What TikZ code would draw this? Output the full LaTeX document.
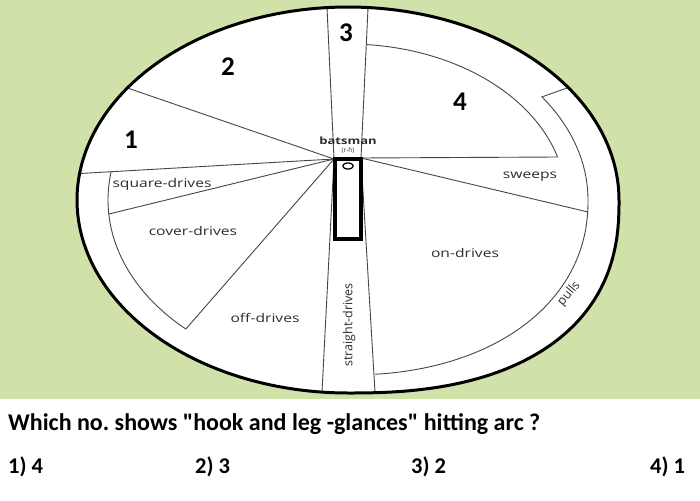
\documentclass[tikz,border=0pt]{standalone}
\usepackage{fontspec}
\setmainfont{Carlito}
\newfontfamily\qfont{Carlito}
\newfontfamily\labfont{Open Sans}
\definecolor{bggreen}{RGB}{208,226,170}
\definecolor{linegray}{RGB}{70,70,70}
\definecolor{labgray}{RGB}{45,45,45}
\newcommand{\fieldboundary}{plot[domain=0.01:89.99,samples=90] ({348+271*(cos(\x))^0.8333},{200+193*(sin(\x))^0.8333}) -- plot[domain=90:360,samples=180] ({348+271*cos(\x)},{200+193*sin(\x)}) -- cycle}
\begin{document}
\frenchspacing
\begin{tikzpicture}[x=1pt,y=-1pt,
  fieldline/.style={draw=linegray,line width=0.9pt},
  lbl/.style={font=\labfont\fontsize{12}{14}\selectfont,text=labgray,inner sep=0pt,xscale=1.3},
  lblv/.style={font=\labfont\fontsize{12.5}{14}\selectfont,text=labgray,inner sep=0pt},
  bignum/.style={font=\qfont\bfseries\fontsize{27}{30}\selectfont,inner sep=0pt},
  qtext/.style={font=\qfont\bfseries\fontsize{24}{26}\selectfont,inner sep=0pt,anchor=base west},
  atext/.style={font=\qfont\bfseries\fontsize{22.5}{26}\selectfont,inner sep=0pt,anchor=base west}]
\useasboundingbox (0,0) rectangle (700,500);
\fill[white] (0,0) rectangle (700,500);
\fill[bggreen] (0,0) rectangle (700,399);
\fill[white] \fieldboundary;

% key points
\coordinate (O) at (334,159);
\coordinate (OR) at (361,158);
\coordinate (E12) at (127.5,88);
\coordinate (E1) at (80,173.5);
\coordinate (Isq) at ({348+240*cos(175.4)},{200+175*sin(175.4)});
\coordinate (Icov) at ({348+240*cos(132.5)},{200+175*sin(132.5)});
\coordinate (LT) at (327,7.5);
\coordinate (LB) at (322,392);
\coordinate (RT) at (368,8);
\coordinate (RB) at (375,392);
\coordinate (SW) at (588,212);
\coordinate (P1) at (567,88);
\coordinate (P2) at ({348+240*cos(-36.1)},{200+175*sin(-36.1)});

% off side
\draw[fieldline] (O) -- (E12);
\draw[fieldline] (O) -- (E1);
\draw[fieldline] (O) -- (Isq);
\draw[fieldline] (O) -- (Icov);
\draw[fieldline] plot[domain=132.5:189.2,samples=60] ({348+240*cos(\x)},{200+175*sin(\x)});
% lanes
\draw[fieldline] (LT) -- (O) -- (LB);
\draw[fieldline] (RT) -- (OR) -- (RB);
% region 4
\draw[fieldline] plot[domain=-85:-16,samples=60] ({348+218*cos(\x)},{200+156*sin(\x)}) -- (OR);
% sweeps
\draw[fieldline] (OR) -- (SW);
% pulls arc
\draw[fieldline] (P1) -- (P2) -- plot[domain=-36.1:0,samples=40] ({348+240*cos(\x)},{200+175*sin(\x)})
  -- plot[domain=0.01:84.5,samples=90] ({348+240*(cos(\x))^0.93},{200+175*(sin(\x))^0.93});

% boundary
\draw[line width=3pt,line join=round] \fieldboundary;

% batsman
\draw[line width=3.5pt,fill=white] (335,159) rectangle (361,239);
\draw[line width=1.3pt] plot[domain=0:360,samples=40] ({348+5*cos(\x)},{166+3*sin(\x)}) -- cycle;
\node[font=\labfont\bfseries\fontsize{10}{12}\selectfont,text=labgray,inner sep=0pt,xscale=1.3] (bat) at (348,141) {batsman};
\node[font=\labfont\fontsize{6.5}{7}\selectfont,text=labgray,inner sep=0pt] (rh) at (348,151) {(r-h)};

% labels
\node[lbl] (sq) at (162,184) {square-drives};
\node[lbl] (cov) at (193,231) {cover-drives};
\node[lbl] (off) at (265,318) {off-drives};
\node[lbl] (on) at (465,253) {on-drives};
\node[lbl] (swp) at (530,177) {sweeps};
\node[lblv,rotate=90] (str) at (349,325) {straight-drives};
\node[lblv,rotate=50] (pul) at (569,294) {pulls};

% numbers
\node[bignum] (n1) at (131,140) {1};
\node[bignum] (n2) at (228,67) {2};
\node[bignum] (n3) at (346,33) {3};
\node[bignum] (n4) at (460,102) {4};

% question
\node[qtext] (q) at (8,430) {Which no. shows "hook and leg -glances" hitting arc ?};
\node[atext] (a1) at (8,473) {1) 4};
\node[atext] (a2) at (195,473) {2) 3};
\node[atext] (a3) at (411,473) {3) 2};
\node[atext] (a4) at (650,473) {4) 1};
\end{tikzpicture}
\end{document}
